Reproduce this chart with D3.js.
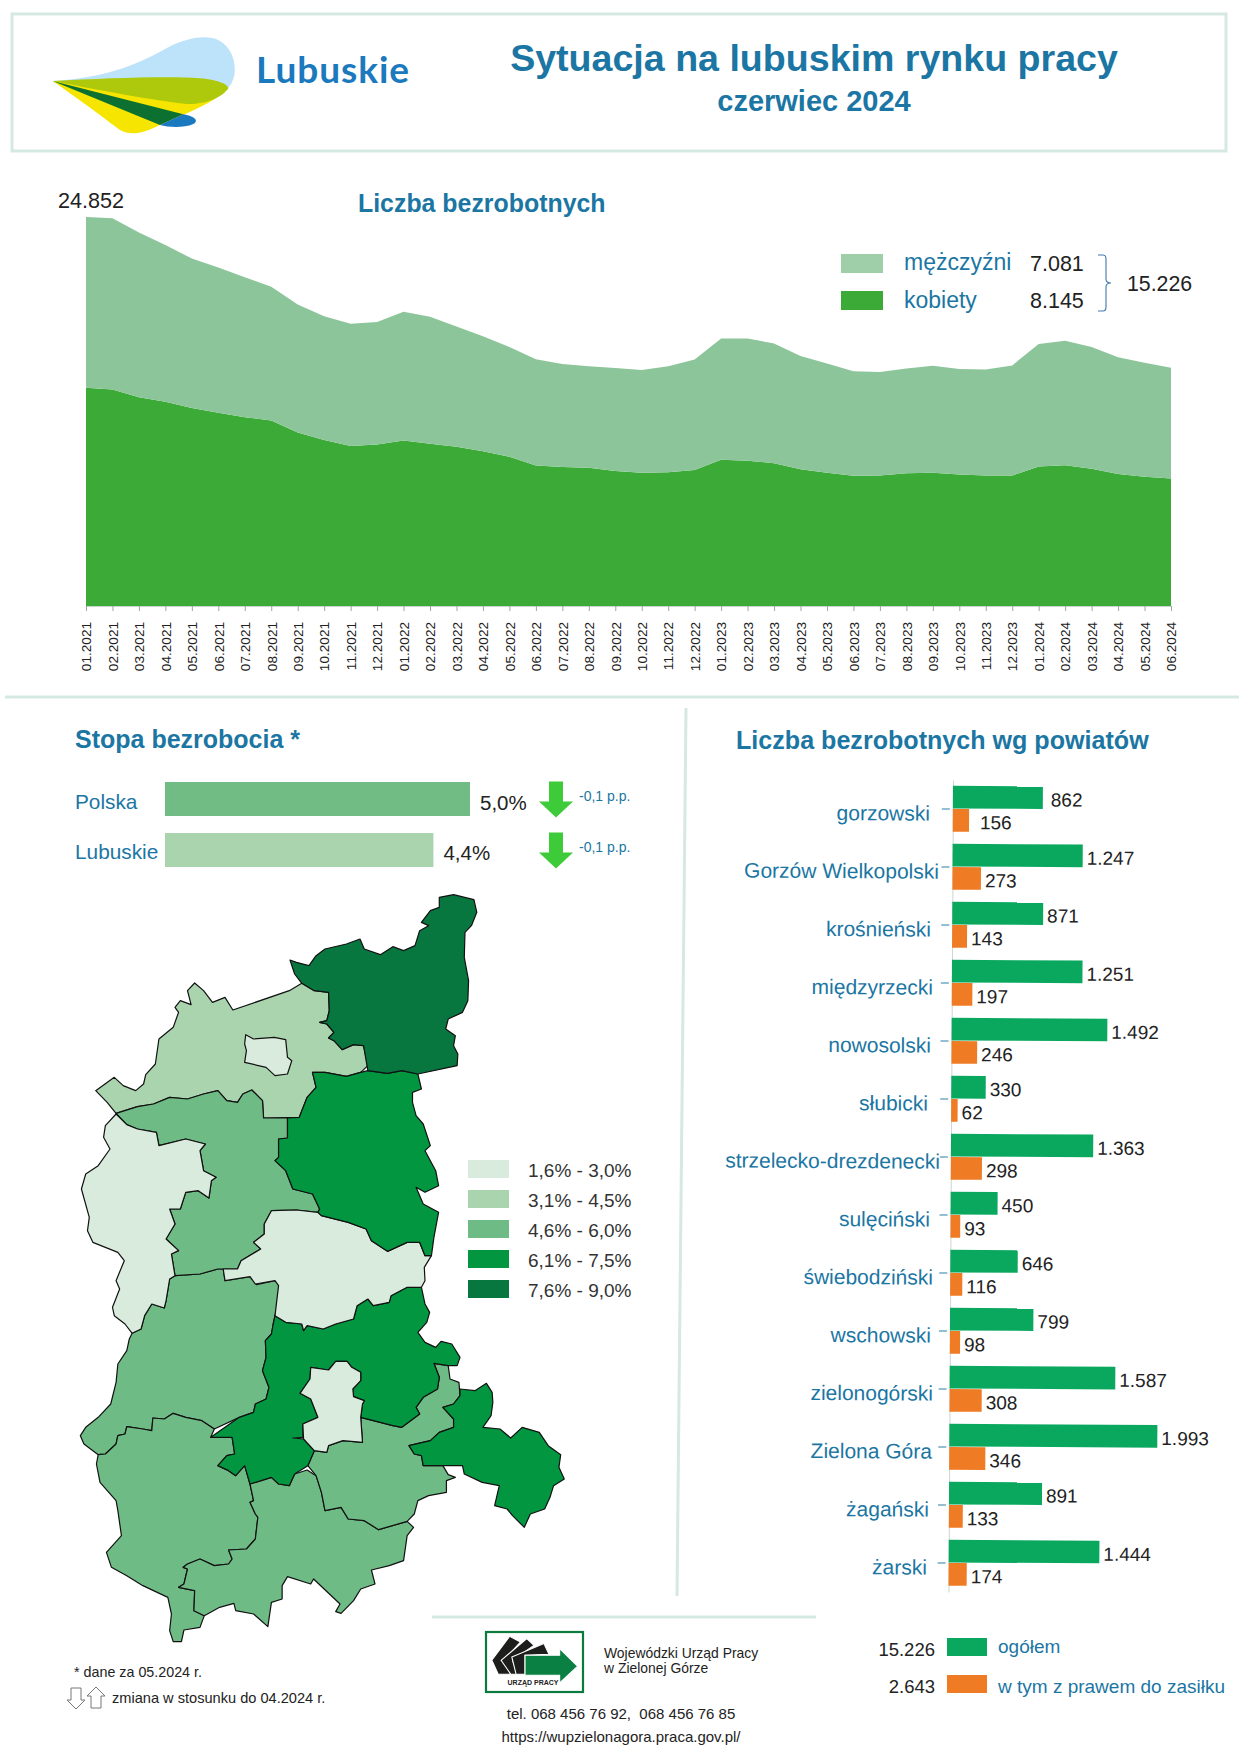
<!DOCTYPE html>
<html>
<head>
<meta charset="utf-8">
<script src="https://cdn.jsdelivr.net/npm/d3@7"></script>
<style>
  body { margin: 0; background: #fff; }
  text { font-family: "Liberation Sans", Arial, sans-serif; }
</style>
</head>
<body>
<svg id="chart" width="1241" height="1754"></svg>
<script>

  // monthly unemployment
  var months = ['01.2021','02.2021','03.2021','04.2021','05.2021','06.2021','07.2021','08.2021','09.2021','10.2021','11.2021','12.2021',
    '01.2022','02.2022','03.2022','04.2022','05.2022','06.2022','07.2022','08.2022','09.2022','10.2022','11.2022','12.2022',
    '01.2023','02.2023','03.2023','04.2023','05.2023','06.2023','07.2023','08.2023','09.2023','10.2023','11.2023','12.2023',
    '01.2024','02.2024','03.2024','04.2024','05.2024','06.2024'];
  var women = [13942,13828,13342,13056,12657,12342,12057,11857,11085,10599,10228,10314,
    10571,10371,10171,9885,9542,8971,8885,8828,8628,8514,8543,8685,
    9342,9285,9114,8742,8514,8314,8342,8485,8514,8400,8342,8342,
    8914,9000,8771,8428,8257,8145];
  var men = [10910,10942,10514,10000,9542,9285,8942,8542,8171,7914,7799,7828,
    8228,8114,7685,7343,7000,6800,6571,6486,6571,6571,6771,7057,
    7743,7800,7657,7229,6971,6685,6600,6686,6828,6742,6772,7029,
    7828,7942,7771,7457,7285,7081];

  // unemployment rate bars
  var rateNames = ['Polska', 'Lubuskie'];
  var rateValues = [5.0, 4.4];
  var rateChange = ['-0,1 p.p.', '-0,1 p.p.'];

  // counties
  var counties = ['gorzowski','Gorzów Wielkopolski','krośnieński','międzyrzecki','nowosolski','słubicki','strzelecko-drezdenecki',
    'sulęciński','świebodziński','wschowski','zielonogórski','Zielona Góra','żagański','żarski'];
  var countyTotal = [862,1247,871,1251,1492,330,1363,450,646,799,1587,1993,891,1444];
  var countyBenefit = [156,273,143,197,246,62,298,93,116,98,308,346,133,174];

  // map classes
  var classLabels = ['1,6% - 3,0%','3,1% - 4,5%','4,6% - 6,0%','6,1% - 7,5%','7,6% - 9,0%'];
  var classColors = ['#d8ebdd','#a9d4ae','#6fbb85','#029640','#08773f'];

  // county outlines, upper map sheet units
  var shapeStrzelecko = [[672,228],[690,235],[725,245],[745,215],[770,195],[830,180],[868,165],[880,195],[925,212],[960,188],[990,200],[1022,185],[1035,140],[1060,125],[1040,115],[1065,80],[1090,70],[1090,40],[1130,32],[1187,47],[1195,85],[1180,125],[1162,145],[1160,220],[1172,290],[1170,350],[1155,385],[1115,405],[1108,435],[1135,455],[1130,485],[1142,510],[1140,545],[1030,570],[985,560],[945,568],[890,560],[878,485],[850,482],[818,497],[795,470],[780,462],[795,445],[775,420],[755,415],[775,410],[782,380],[780,325],[740,320],[705,298],[685,270]];
  var shapeGorzowski = [[705,298],[740,320],[780,325],[782,380],[775,410],[755,415],[775,420],[795,445],[780,462],[795,470],[818,497],[850,482],[878,485],[890,545],[870,565],[830,577],[770,565],[735,565],[745,610],[720,640],[698,700],[598,702],[595,650],[565,618],[540,630],[525,655],[495,650],[470,620],[430,630],[385,645],[335,640],[290,660],[245,668],[185,688],[160,655],[128,620],[180,580],[205,605],[240,620],[262,600],[268,572],[295,540],[305,465],[345,430],[360,385],[350,370],[365,350],[395,362],[385,320],[405,297],[430,320],[455,355],[490,340],[512,378],[670,320]];
  var shapeGorzow = [[548,452],[570,465],[628,460],[660,467],[665,520],[677,530],[665,570],[630,575],[605,550],[545,535],[550,500],[545,480]];
  var shapeSulecin = [[185,688],[245,668],[290,660],[335,640],[385,645],[430,630],[470,620],[495,650],[525,655],[540,630],[565,618],[595,650],[598,702],[665,702],[665,762],[640,765],[640,820],[630,830],[660,860],[680,915],[735,930],[755,975],[750,985],[690,978],[620,980],[600,1020],[600,1050],[570,1075],[590,1095],[535,1130],[525,1155],[470,1155],[420,1170],[350,1175],[340,1110],[360,1100],[325,1065],[350,1020],[335,975],[365,975],[380,925],[415,920],[445,942],[452,890],[465,880],[430,860],[420,800],[435,780],[380,765],[305,785],[298,745],[245,735],[215,722]];
  var shapeSlubice = [[185,690],[215,722],[245,735],[298,745],[305,785],[380,765],[435,780],[420,800],[430,860],[465,880],[452,890],[445,942],[415,920],[380,925],[365,975],[335,975],[350,1020],[325,1065],[360,1100],[340,1110],[350,1175],[335,1185],[325,1250],[320,1272],[285,1260],[265,1295],[255,1335],[230,1348],[210,1320],[180,1295],[175,1270],[195,1215],[185,1190],[208,1130],[190,1105],[120,1075],[105,1040],[110,1000],[88,915],[100,870],[135,845],[168,795],[150,760],[155,725]];
  var shapeSwiebodzin = [[620,980],[690,978],[750,985],[760,995],[835,1015],[885,1035],[900,1070],[945,1102],[1000,1075],[1035,1075],[1050,1115],[1068,1115],[1048,1150],[1050,1190],[1040,1210],[1000,1210],[955,1235],[950,1255],[905,1265],[890,1245],[860,1265],[850,1305],[800,1320],[765,1335],[720,1325],[710,1340],[705,1320],[660,1315],[630,1295],[640,1205],[630,1190],[575,1200],[560,1178],[490,1190],[485,1155],[525,1155],[535,1130],[590,1095],[570,1075],[600,1050],[600,1020]];
  var shapeMiedzyrzecz = [[735,565],[770,565],[830,577],[870,565],[890,560],[945,568],[985,560],[1030,570],[1040,615],[1015,625],[1015,655],[1025,695],[1045,720],[1065,785],[1050,800],[1080,860],[1088,905],[1050,925],[1025,910],[1045,960],[1088,985],[1075,1060],[1068,1115],[1050,1115],[1035,1075],[1000,1075],[945,1102],[900,1070],[885,1035],[835,1015],[760,995],[750,985],[755,975],[735,930],[680,915],[660,860],[630,830],[640,820],[640,765],[665,762],[665,702],[698,700],[720,640],[745,610]];

  // lower map sheet units
  var shapeKrosno = [[335,45],[350,35],[420,30],[470,15],[485,15],[490,50],[560,38],[578,62],[630,50],[648,62],[630,155],[625,180],[620,210],[603,230],[605,280],[595,320],[613,370],[605,405],[575,420],[570,445],[530,460],[460,495],[425,470],[380,460],[345,448],[320,465],[288,462],[285,500],[260,495],[215,488],[210,510],[190,515],[185,540],[155,570],[135,572],[95,540],[85,515],[100,490],[135,460],[170,420],[185,355],[190,300],[215,260],[222,225],[230,208],[255,195],[265,155],[285,120],[320,132],[325,110]];
  var shapeZary = [[135,572],[155,570],[185,540],[190,515],[210,510],[215,488],[260,495],[285,500],[288,462],[320,465],[345,448],[380,460],[425,470],[460,495],[450,520],[510,520],[517,570],[495,575],[470,605],[500,620],[520,635],[545,605],[560,660],[570,710],[560,715],[575,750],[582,760],[575,825],[550,855],[500,858],[510,885],[500,900],[460,905],[420,885],[385,900],[373,910],[385,915],[375,960],[360,970],[405,980],[403,1040],[432,1055],[420,1090],[375,1098],[368,1133],[345,1133],[335,1100],[340,1050],[330,1000],[260,965],[215,935],[172,910],[158,865],[200,815],[190,740],[185,710],[140,655],[130,600]];
  var shapeZagan = [[560,660],[620,640],[640,660],[670,665],[685,630],[720,618],[745,635],[760,685],[770,740],[815,730],[835,765],[880,770],[920,797],[1000,772],[1018,790],[1000,815],[990,890],[950,905],[900,918],[910,960],[870,975],[850,1010],[815,1048],[800,1043],[812,1020],[738,945],[730,960],[665,938],[650,965],[650,1005],[620,1015],[610,1088],[570,1050],[520,1040],[515,1018],[475,1030],[432,1055],[403,1040],[405,980],[360,970],[375,960],[385,915],[373,910],[385,900],[420,885],[460,905],[500,900],[510,885],[500,858],[550,855],[575,825],[582,760],[575,750],[560,715],[570,710]];
  var shapeZielonogorski = [[630,155],[660,175],[705,180],[710,200],[720,185],[765,195],[800,180],[850,165],[860,125],[890,105],[905,125],[950,115],[955,95],[1000,70],[1040,70],[1050,120],[1063,145],[1055,175],[1030,205],[1050,235],[1080,250],[1095,232],[1125,240],[1148,280],[1140,305],[1115,305],[1075,298],[1090,340],[1085,375],[1045,400],[1025,430],[1035,450],[985,490],[960,485],[870,460],[875,420],[880,410],[850,398],[848,375],[870,350],[870,325],[845,310],[832,292],[800,292],[780,318],[730,310],[728,345],[700,388],[730,405],[750,460],[708,480],[708,520],[680,522],[710,525],[740,560],[722,605],[685,630],[670,665],[640,660],[620,640],[560,660],[545,605],[520,635],[500,620],[470,605],[495,575],[517,570],[510,520],[450,520],[530,460],[570,445],[575,420],[605,405],[613,370],[595,320],[605,280],[603,230],[620,210],[625,180]];
  var shapeZielonaGora = [[730,310],[780,318],[800,292],[832,292],[845,310],[870,325],[870,350],[848,375],[850,398],[880,410],[875,420],[870,460],[875,535],[820,530],[780,545],[775,565],[740,560],[710,525],[708,480],[750,460],[730,405],[700,388],[728,345]];
  var shapeNowaSol = [[870,460],[960,485],[985,490],[1035,450],[1025,430],[1045,400],[1085,375],[1090,340],[1075,298],[1115,305],[1120,345],[1145,355],[1148,395],[1130,420],[1100,430],[1130,465],[1130,490],[1090,505],[1065,530],[1005,545],[1020,570],[1040,575],[1045,605],[1100,605],[1115,632],[1135,640],[1110,650],[1110,685],[1060,695],[1030,710],[1020,750],[1000,772],[920,797],[880,770],[835,765],[815,730],[770,740],[760,685],[745,635],[722,605],[740,560],[775,565],[780,545],[820,530],[875,535]];
  var shapeWschowa = [[1148,375],[1190,380],[1222,358],[1238,385],[1240,415],[1235,455],[1212,490],[1260,495],[1290,522],[1322,490],[1370,505],[1395,545],[1430,572],[1425,610],[1440,645],[1410,665],[1400,700],[1385,735],[1345,750],[1328,790],[1295,755],[1280,735],[1245,725],[1258,665],[1210,655],[1160,630],[1155,605],[1115,605],[1100,605],[1045,605],[1040,575],[1020,570],[1005,545],[1065,530],[1090,505],[1130,490],[1130,465],[1100,430],[1130,420],[1148,395]];

  var upperShapes = [[shapeGorzowski,1],[shapeGorzow,0],[shapeSulecin,2],[shapeSlubice,0],[shapeSwiebodzin,0],[shapeMiedzyrzecz,3],[shapeStrzelecko,4]];
  var lowerShapes = [[shapeKrosno,2],[shapeZary,2],[shapeZagan,2],[shapeNowaSol,2],[shapeZielonogorski,3],[shapeZielonaGora,0],[shapeWschowa,3]];

  var BLUE = '#1b76a3';
  var INK = '#222';
  var RULE = '#d5e9e2';

  var fmt = d3.formatLocale({ decimal: ',', thousands: '.', grouping: [3], currency: ['', ''] }).format(',d');
  var svg = d3.select('#chart');

  function label(str, x, y, size, opts) {
    opts = opts || {};
    return svg.append('text')
      .attr('x', x).attr('y', y)
      .attr('dominant-baseline', 'central')
      .attr('text-anchor', opts.anchor || 'start')
      .attr('font-size', size)
      .attr('font-weight', opts.bold ? 700 : 400)
      .attr('fill', opts.fill || INK)
      .text(str);
  }

  // frames and rules
  svg.append('rect').attr('x', 12).attr('y', 14).attr('width', 1214).attr('height', 137)
    .attr('fill', 'none').attr('stroke', RULE).attr('stroke-width', 3);
  svg.append('line').attr('x1', 5).attr('x2', 1239).attr('y1', 697).attr('y2', 697).attr('stroke', RULE).attr('stroke-width', 3);
  svg.append('line').attr('x1', 686).attr('x2', 677).attr('y1', 708).attr('y2', 1596).attr('stroke', RULE).attr('stroke-width', 3);
  svg.append('line').attr('x1', 432).attr('x2', 816).attr('y1', 1617).attr('y2', 1617).attr('stroke', RULE).attr('stroke-width', 3);

  // region logo
  var logo = svg.append('g').attr('transform', 'translate(40,20) scale(0.3333)');
  logo.append('path').attr('fill', '#bde3fa').attr('d', 'M38,183 C180,175 280,140 370,90 C420,60 480,45 520,55 C575,70 590,130 583,165 C578,190 565,205 562,205 L300,200 Z');
  logo.append('path').attr('fill', '#f6e500').attr('d', 'M38,183 C120,240 200,300 240,330 C270,345 300,345 360,315 L430,285 C480,262 540,235 565,205 L300,200 Z');
  logo.append('path').attr('fill', '#aec90b').attr('d', 'M38,183 C200,175 380,168 480,175 C540,180 565,195 565,205 C545,235 490,255 440,252 C300,235 150,205 38,183 Z');
  logo.append('path').attr('fill', '#0b7030').attr('d', 'M38,183 L430,283 L360,315 Z');
  logo.append('path').attr('fill', '#1b79c0').attr('d', 'M430,283 C470,290 475,305 460,312 C430,325 385,322 360,315 Z');
  label('Lubuskie', 256, 68, 37, { bold: true, fill: '#1b79bd' }).attr('textLength', 153).style('font-family', 'Lato');

  label('Sytuacja na lubuskim rynku pracy', 814, 58, 37.6, { bold: true, fill: BLUE, anchor: 'middle' });
  label('czerwiec 2024', 814, 101, 29, { bold: true, fill: BLUE, anchor: 'middle' });

  // area chart
  var x = d3.scalePoint().domain(months).range([86, 1171]);
  var y = d3.scaleLinear().domain([0, 24852]).range([606, 217]);
  var rows = months.map(function (m, i) { return { month: m, women: women[i], men: men[i] }; });
  var stack = d3.stack().keys(['women', 'men'])(rows);
  var area = d3.area()
    .x(function (d) { return x(d.data.month); })
    .y0(function (d) { return y(d[0]); })
    .y1(function (d) { return y(d[1]); });
  var areaColors = { women: '#3caa36', men: '#8dc59b' };
  svg.selectAll('path.area').data(stack).enter().append('path')
    .attr('class', 'area')
    .attr('d', area)
    .attr('fill', function (d) { return areaColors[d.key]; });

  var xAxis = svg.append('g').attr('transform', 'translate(0,606)').call(d3.axisBottom(x).tickSize(5).tickPadding(10));
  xAxis.select('.domain').attr('stroke', '#c9d6cf');
  xAxis.selectAll('.tick line').attr('stroke', '#9aa5a0');
  xAxis.selectAll('text')
    .attr('font-family', '"Liberation Sans"')
    .attr('font-size', 13.6)
    .attr('fill', INK)
    .attr('text-anchor', 'end')
    .attr('transform', 'rotate(-90)')
    .attr('x', -16).attr('y', 0).attr('dy', '0.35em');

  label(fmt(women[0] + men[0]), 58, 200, 21.6);
  label('Liczba bezrobotnych', 358, 203, 24.9, { bold: true, fill: BLUE });

  svg.append('rect').attr('x', 841).attr('y', 254).attr('width', 42).attr('height', 19).attr('fill', '#9fcfa8');
  svg.append('rect').attr('x', 841).attr('y', 291).attr('width', 42).attr('height', 19).attr('fill', '#3caa36');
  label('mężczyźni', 904, 262, 23, { fill: BLUE });
  label('kobiety', 904, 300, 23, { fill: BLUE });
  label(fmt(men[men.length - 1]), 1030, 264, 21.5);
  label(fmt(women[women.length - 1]), 1030, 301, 21.5);
  svg.append('path').attr('fill', 'none').attr('stroke', '#3f78b0').attr('stroke-width', 1.1)
    .attr('d', 'M1098,255 H1103 Q1106,255 1106,259 V279 Q1106,283 1111,283 Q1106,283 1106,287 V307 Q1106,311 1103,311 H1098');
  label(fmt(men[men.length - 1] + women[women.length - 1]), 1127, 284, 21.3);

  // unemployment rate
  label('Stopa bezrobocia *', 75, 739, 25, { bold: true, fill: BLUE });
  var rateX = d3.scaleLinear().domain([0, 5]).range([165, 470]);
  var rateY = d3.scaleBand().domain(rateNames).range([782, 867]).paddingInner(0.333).paddingOuter(0);
  var rateColors = ['#71bb85', '#a9d4ae'];
  var arrowDown = 'M-7,-18 H7 V2 H17 L0,18 L-17,2 H-7 Z';
  rateNames.forEach(function (name, i) {
    var cy = rateY(name) + rateY.bandwidth() / 2;
    svg.append('rect').attr('x', rateX(0)).attr('y', rateY(name)).attr('width', rateX(rateValues[i]) - rateX(0))
      .attr('height', rateY.bandwidth()).attr('fill', rateColors[i]);
    label(name, 75, cy + 2, 20.8, { fill: BLUE });
    label(rateValues[i].toFixed(1).replace('.', ',') + '%', rateX(rateValues[i]) + 10, cy + 3, 20.5);
    svg.append('path').attr('d', arrowDown).attr('fill', '#3ecb3a').attr('transform', 'translate(556,' + (cy + 0.5) + ')');
    label(rateChange[i], 579, cy - 3, 14, { fill: BLUE });
  });

  // map
  var mapX = d3.scaleLinear().domain([0, 1568]).range([50, 610]);
  var mapY = d3.scaleLinear().domain([0, 1440]).range([884, 1364]);
  var mapYLow = d3.scaleLinear().domain([0, 1482]).range([1264, 1758]);
  var upperLine = d3.line().x(function (d) { return mapX(d[0]); }).y(function (d) { return mapY(d[1]); }).curve(d3.curveLinearClosed);
  var lowerLine = d3.line().x(function (d) { return mapX(d[0]); }).y(function (d) { return mapYLow(d[1]); }).curve(d3.curveLinearClosed);
  function drawShapes(list, line) {
    svg.append('g').selectAll('path').data(list).enter().append('path')
      .attr('d', function (d) { return line(d[0]); })
      .attr('fill', function (d) { return classColors[d[1]]; })
      .attr('stroke', '#111').attr('stroke-width', 1.2).attr('stroke-linejoin', 'round');
  }
  drawShapes(lowerShapes, lowerLine);
  drawShapes(upperShapes, upperLine);

  // map legend
  var legendY = d3.scaleBand().domain(classLabels).range([1160, 1298]).paddingInner(0.4).paddingOuter(0);
  classLabels.forEach(function (c, i) {
    svg.append('rect').attr('x', 468).attr('y', legendY(c)).attr('width', 41).attr('height', legendY.bandwidth()).attr('fill', classColors[i]);
    label(c, 528, legendY(c) + legendY.bandwidth() / 2 + 1, 19, { fill: '#333' });
  });

  // footnotes
  label('* dane za 05.2024 r.', 74, 1672, 14.3);
  label('zmiana w stosunku do 04.2024 r.', 112, 1698, 14.6);
  var hollowDown = 'M-5,-10 H5 V2 H9 L0,11 L-9,2 H-5 Z';
  svg.append('path').attr('d', hollowDown).attr('transform', 'translate(76,1698)').attr('fill', '#fff').attr('stroke', '#777');
  svg.append('path').attr('d', hollowDown).attr('transform', 'translate(96,1698) rotate(180)').attr('fill', '#fff').attr('stroke', '#777');

  // labour office logo
  svg.append('rect').attr('x', 486).attr('y', 1632).attr('width', 97).attr('height', 60).attr('fill', '#fff').attr('stroke', '#0a7a3f').attr('stroke-width', 2.2);
  var logoG = svg.append('g').attr('transform', 'translate(52,1264) scale(0.357,0.333)');
  ['M1232,1190 L1282,1118 L1312,1135 L1265,1190 L1285,1232 L1250,1232 Z',
   'M1258,1190 L1330,1125 L1350,1145 L1290,1190 L1305,1232 L1285,1232 Z',
   'M1288,1180 L1378,1140 L1392,1172 L1325,1175 L1325,1232 L1300,1232 Z'].forEach(function (d) {
    logoG.append('path').attr('d', d).attr('fill', '#1d1d1b').attr('stroke', '#fff').attr('stroke-width', 3);
  });
  logoG.append('path').attr('d', 'M1325,1175 H1422 V1155 L1472,1208 L1422,1258 V1235 H1325 Z').attr('fill', '#0a8043').attr('stroke', '#fff').attr('stroke-width', 3);
  label('URZĄD  PRACY', 533, 1682, 7, { bold: true, anchor: 'middle', fill: '#222' });

  label('Wojewódzki Urząd Pracy', 604, 1653, 13.9);
  label('w Zielonej Górze', 604, 1668, 13.9);
  label('tel. 068 456 76 92,  068 456 76 85', 621, 1713, 15, { anchor: 'middle' }).attr('xml:space', 'preserve');
  label('https://wupzielonagora.praca.gov.pl/', 621, 1736, 15, { anchor: 'middle' });

  // county bars
  label('Liczba bezrobotnych wg powiatów', 736, 740, 25.1, { bold: true, fill: BLUE });

  var barBase = 953;
  var barX = d3.scaleLinear().domain([0, 1993]).range([0, 208]);
  var barY = d3.scaleBand().domain(counties).range([780, 1592]).paddingInner(0.2).paddingOuter(0.1);
  var barInner = d3.scaleBand().domain(['total', 'benefit']).range([0, barY.bandwidth()]);
  var bars = svg.append('g').attr('transform', 'rotate(0.32,' + barBase + ',780) translate(' + barBase + ',0)');

  var yAxis = bars.append('g').call(d3.axisLeft(barY).tickSize(0).tickPadding(0));
  yAxis.select('.domain').attr('stroke', '#ccd6d0');
  var labelEnds = [930,939,931,933,931,928,940,930,933,931,933,932,929,927];
  yAxis.selectAll('.tick text')
    .attr('font-family', '"Liberation Sans"')
    .attr('font-size', 21)
    .attr('fill', BLUE)
    .attr('x', function (d, i) { return labelEnds[i] - barBase + 0.325 * (i + 0.5); })
    .attr('y', 5);
  yAxis.selectAll('.tick').append('line').attr('x1', -11).attr('x2', -3).attr('stroke', '#2a7fa5');

  function drawBars(key, values, color) {
    bars.append('g').selectAll('rect').data(values).enter().append('rect')
      .attr('x', 0)
      .attr('y', function (d, i) { return barY(counties[i]) + barInner(key); })
      .attr('width', function (d) { return barX(d); })
      .attr('height', barInner.bandwidth() - 0.5)
      .attr('fill', color);
    bars.append('g').selectAll('text').data(values).enter().append('text')
      .attr('x', function (d, i) { return barX(d) + (i === 0 ? (key === 'total' ? 8 : 11) : 4); })
      .attr('y', function (d, i) { return barY(counties[i]) + barInner(key) + barInner.bandwidth() / 2 + 2; })
      .attr('dominant-baseline', 'central')
      .attr('font-size', 19)
      .attr('fill', INK)
      .text(function (d) { return fmt(d); });
  }
  drawBars('total', countyTotal, '#0aa85f');
  drawBars('benefit', countyBenefit, '#ef7b25');

  label(fmt(d3.sum(countyTotal)), 935, 1649, 18.5, { anchor: 'end' });
  label(fmt(d3.sum(countyBenefit)), 935, 1686, 18.5, { anchor: 'end' });
  svg.append('rect').attr('x', 947).attr('y', 1638).attr('width', 40).attr('height', 18).attr('fill', '#0aa85f');
  svg.append('rect').attr('x', 947).attr('y', 1675).attr('width', 40).attr('height', 18).attr('fill', '#ef7b25');
  label('ogółem', 998, 1646, 19, { fill: BLUE });
  label('w tym z prawem do zasiłku', 998, 1686, 19, { fill: BLUE });

</script>
</body>
</html>
